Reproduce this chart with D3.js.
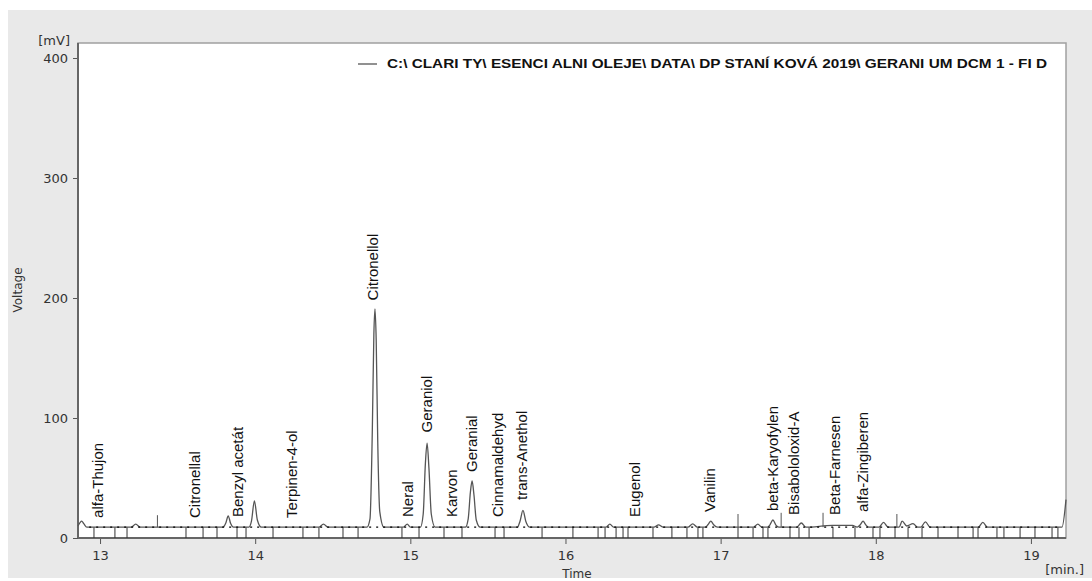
<!DOCTYPE html>
<html>
<head>
<meta charset="utf-8">
<script src="https://cdn.jsdelivr.net/npm/d3@7"></script>
<style>
  body { margin: 0; background: #fff; }
  svg { display: block; }
</style>
</head>
<body>
<svg id="chart" width="1092" height="581"></svg>
<script>
// chromatogram trace: [time (min), signal (mV)]
var trace = [
  [12.858, 10], [12.872, 13], [12.882, 14], [12.895, 12], [12.915, 9],
  [13.20, 9], [13.23, 11.5], [13.26, 9],
  [13.79, 9], [13.812, 13], [13.826, 18.5], [13.842, 12], [13.86, 9],
  [13.96, 9], [13.976, 14], [13.995, 31], [14.014, 15], [14.04, 9],
  [14.41, 9], [14.44, 11.5], [14.47, 9],
  [14.72, 9], [14.74, 16], [14.755, 90], [14.765, 170], [14.772, 191], [14.78, 165], [14.79, 80], [14.803, 22], [14.83, 9],
  [14.955, 9], [14.98, 11.5], [15.0, 9],
  [15.065, 9], [15.083, 20], [15.097, 62], [15.108, 79], [15.12, 58], [15.135, 20], [15.16, 9],
  [15.355, 9], [15.373, 16], [15.387, 38], [15.398, 47.5], [15.41, 36], [15.425, 15], [15.45, 9],
  [15.69, 9], [15.707, 14], [15.726, 23], [15.744, 14], [15.77, 9],
  [16.26, 9], [16.286, 11.5], [16.31, 9],
  [16.57, 9], [16.60, 11], [16.63, 9],
  [16.79, 9], [16.82, 11.8], [16.85, 9],
  [16.90, 9], [16.918, 11], [16.937, 14], [16.955, 11], [16.98, 9],
  [17.21, 9], [17.24, 11.5], [17.265, 9],
  [17.30, 9], [17.318, 11], [17.337, 15], [17.355, 11], [17.375, 9],
  [17.49, 9], [17.52, 12.5], [17.55, 9],
  [17.72, 10.5], [17.85, 10.5],
  [17.88, 9], [17.90, 11], [17.918, 14], [17.935, 11], [17.955, 9],
  [18.02, 9], [18.05, 13], [18.08, 9],
  [18.15, 9], [18.17, 14], [18.20, 10], [18.24, 12], [18.27, 9],
  [18.29, 9], [18.32, 13.5], [18.35, 9],
  [18.66, 9], [18.69, 13], [18.72, 9],
  [19.20, 9], [19.226, 32]
];

// event spikes drawn as thin vertical strokes: [time, top mV]
var spikes = [[13.37, 19], [17.112, 20], [17.39, 21], [17.66, 21], [18.136, 20]];

// integration marks below the baseline
var marks = [12.961, 13.096, 13.174, 13.554, 13.664, 13.754, 13.883, 13.941, 14.115, 14.308,
  14.411, 14.566, 14.663, 14.946, 15.056, 15.217, 15.333, 15.546, 15.604, 15.849, 16.048,
  16.210, 16.255, 16.326, 16.371, 16.403, 16.564, 16.686, 16.783, 16.854, 16.886, 17.112,
  17.209, 17.273, 17.305, 17.447, 17.505, 17.570, 17.724, 17.866, 17.982, 18.027, 18.124,
  18.208, 18.298, 18.401, 18.530, 18.627, 18.659, 18.781, 18.826, 18.930, 19.026, 19.136, 19.174];

// peak names: [name, time, mV where the text starts]
var peakLabels = [
  ["alfa-Thujon", 12.987, 16.7],
  ["Citronellal", 13.612, 16.7],
  ["Benzyl acetát", 13.889, 17.5],
  ["Terpinen-4-ol", 14.237, 16.7],
  ["Citronellol", 14.759, 198],
  ["Neral", 14.985, 17.5],
  ["Geraniol", 15.107, 88],
  ["Karvon", 15.269, 17.5],
  ["Geranial", 15.397, 55],
  ["Cinnamaldehyd", 15.565, 17.5],
  ["trans-Anethol", 15.720, 31.7],
  ["Eugenol", 16.448, 17.5],
  ["Vanilin", 16.931, 21.7],
  ["beta-Karyofylen", 17.338, 22.5],
  ["Bisabololoxid-A", 17.473, 19.2],
  ["Beta-Farnesen", 17.737, 19.2],
  ["alfa-Zingiberen", 17.918, 21.7]
];

var baselineValue = 9;
var xTicks = [13, 14, 15, 16, 17, 18, 19];
var yTicks = [0, 100, 200, 300, 400];
var legendText = "C:\\ CLARI TY\\ ESENCI ALNI  OLEJE\\ DATA\\ DP STANÍ KOVÁ 2019\\ GERANI UM DCM 1 - FI D";

var svg = d3.select("#chart");
var plot = {left: 78, top: 43, right: 1066, bottom: 538};

// grey panel behind everything
svg.append("rect")
  .attr("x", 8).attr("y", 10)
  .attr("width", 1084).attr("height", 568)
  .attr("fill", "#e9e9e9");

svg.append("rect")
  .attr("x", plot.left).attr("y", plot.top)
  .attr("width", plot.right - plot.left).attr("height", plot.bottom - plot.top)
  .attr("fill", "#fff")
  .attr("stroke", "#a0a0a0")
  .attr("stroke-width", 1.5);

var x = d3.scaleLinear().domain([12.858, 19.226]).range([plot.left, plot.right]);
var y = d3.scaleLinear().domain([0, 412.5]).range([plot.bottom, plot.top]);

// y axis
var yAxis = svg.append("g")
  .attr("transform", "translate(" + plot.left + ",0)")
  .call(d3.axisLeft(y).tickValues(yTicks).tickSize(5).tickPadding(5));
yAxis.select(".domain").remove();
yAxis.selectAll("line").attr("stroke", "#555");
yAxis.selectAll("text").attr("fill", "#333")
  .style("font-family", "DejaVu Sans").style("font-size", "13px");

// x axis
var xAxis = svg.append("g")
  .attr("transform", "translate(0," + plot.bottom + ")")
  .call(d3.axisBottom(x).tickValues(xTicks).tickSize(6).tickPadding(7).tickFormat(d3.format("d")));
xAxis.select(".domain").remove();
xAxis.selectAll("line").attr("stroke", "#555");
xAxis.selectAll("text").attr("fill", "#333")
  .style("font-family", "DejaVu Sans").style("font-size", "13px");

// axis lines
svg.append("line")
  .attr("x1", plot.left).attr("x2", plot.left)
  .attr("y1", plot.top).attr("y2", plot.bottom)
  .attr("stroke", "#666").attr("stroke-width", 2);
svg.append("line")
  .attr("x1", plot.left).attr("x2", plot.right)
  .attr("y1", plot.bottom).attr("y2", plot.bottom)
  .attr("stroke", "#666").attr("stroke-width", 2);

// axis titles
svg.append("text")
  .attr("x", 70).attr("y", 45)
  .attr("text-anchor", "end")
  .style("font-family", "DejaVu Sans").style("font-size", "13px").attr("fill", "#333")
  .text("[mV]");
svg.append("text")
  .attr("transform", "translate(22,290)rotate(-90)")
  .attr("text-anchor", "middle")
  .style("font-family", "DejaVu Sans").style("font-size", "12px").attr("fill", "#333")
  .text("Voltage");
svg.append("text")
  .attr("x", (plot.left + plot.right) / 2 + 5).attr("y", 578)
  .attr("text-anchor", "middle")
  .style("font-family", "DejaVu Sans").style("font-size", "12px").attr("fill", "#333")
  .text("Time");
svg.append("text")
  .attr("x", 1084).attr("y", 574)
  .attr("text-anchor", "end")
  .style("font-family", "DejaVu Sans").style("font-size", "13px").attr("fill", "#333")
  .text("[min.]");

// integration marks
svg.append("g").selectAll("line")
  .data(marks)
  .enter().append("line")
    .attr("x1", function (d) { return x(d); })
    .attr("x2", function (d) { return x(d); })
    .attr("y1", y(baselineValue))
    .attr("y2", y(0))
    .attr("stroke", "#333").attr("stroke-width", 1);

// spikes
svg.append("g").selectAll("line")
  .data(spikes)
  .enter().append("line")
    .attr("x1", function (d) { return x(d[0]); })
    .attr("x2", function (d) { return x(d[0]); })
    .attr("y1", y(baselineValue))
    .attr("y2", function (d) { return y(d[1]); })
    .attr("stroke", "#555").attr("stroke-width", 1);

// trace
var line = d3.line()
  .x(function (d) { return x(d[0]); })
  .y(function (d) { return y(d[1]); })
  .curve(d3.curveMonotoneX);
svg.append("path")
  .datum(trace)
  .attr("fill", "none")
  .attr("stroke", "#555")
  .attr("stroke-width", 1.3)
  .attr("d", line);

// dashed baseline
svg.append("line")
  .attr("x1", x(12.93)).attr("x2", x(19.19))
  .attr("y1", y(baselineValue)).attr("y2", y(baselineValue))
  .attr("stroke", "#000").attr("stroke-width", 1.3)
  .attr("stroke-dasharray", "2,5");

// peak names
svg.append("g").selectAll("text")
  .data(peakLabels)
  .enter().append("text")
    .attr("transform", function (d) { return "translate(" + x(d[1]) + "," + y(d[2]) + ")rotate(-90)"; })
    .attr("dy", "0.35em")
    .style("font-family", "Liberation Sans, Arial").style("font-size", "15px")
    .attr("fill", "#111")
    .text(function (d) { return d[0]; });

// legend
svg.append("line")
  .attr("x1", 358).attr("x2", 377)
  .attr("y1", 64).attr("y2", 64)
  .attr("stroke", "#555").attr("stroke-width", 1.3);
svg.append("text")
  .attr("x", 387).attr("y", 68)
  .attr("textLength", 660)
  .attr("lengthAdjust", "spacingAndGlyphs")
  .style("font-family", "Liberation Sans, Arial").style("font-size", "12px").style("font-weight", "bold")
  .attr("fill", "#111")
  .text(legendText);
</script>
</body>
</html>
